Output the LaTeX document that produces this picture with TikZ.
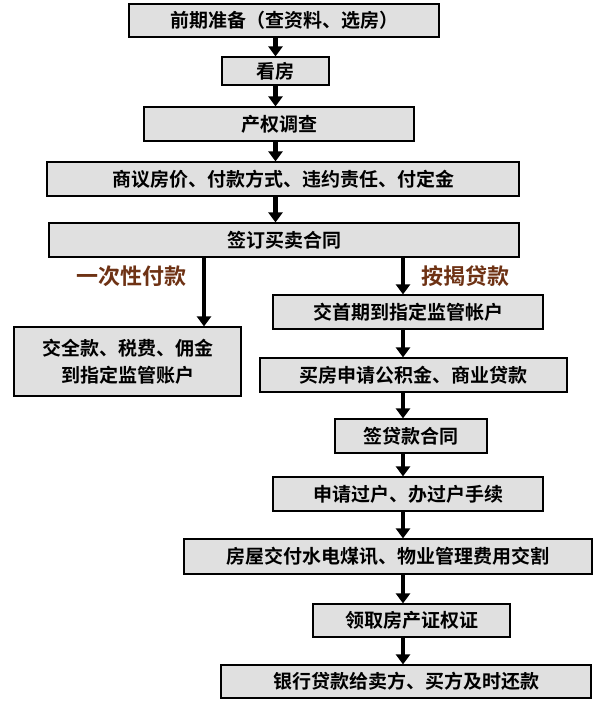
\documentclass[tikz,border=0pt]{standalone}
\usepackage{fontspec}
\setmainfont{Noto Sans CJK SC}[BoldFont={Noto Sans CJK SC Bold}]
\usetikzlibrary{arrows.meta}
\definecolor{boxgray}{RGB}{224,224,224}
\definecolor{labbrown}{RGB}{110,50,20}
\tikzset{
  box/.style={draw=black, line width=1.2pt, fill=boxgray, inner sep=0pt, align=center,
    font=\bfseries\fontsize{19}{27}\selectfont},
  arr/.style={line width=4.5pt, -{Triangle[length=10pt,width=14pt]}},
  lab/.style={text=labbrown, font=\bfseries\fontsize{22}{24}\selectfont}
}
\newcommand{\bx}[6]{\node[box, minimum width={(#4-#2)*1pt}, minimum height={(#5-#3)*1pt}] (#1) at ({(#2+#4)/2}, {(#3+#5)/2}) {#6};}
\begin{document}
\begin{tikzpicture}[x=1pt,y=-1pt]
\useasboundingbox (0,0) rectangle (600,709);
\bx{a}{129}{4}{439}{37}{前期准备（查资料、选房）}
\bx{b}{222}{57}{329}{85}{看房}
\bx{c}{144}{107}{414}{141}{产权调查}
\bx{d}{47}{162}{519}{196}{商议房价、付款方式、违约责任、付定金}
\bx{e}{49}{223}{519}{257}{签订买卖合同}
\bx{l}{14}{327}{241}{396}{交全款、税费、佣金\\到指定监管账户}
\bx{r1}{273}{295}{543}{329}{交首期到指定监管帐户}
\bx{r2}{260}{358}{567}{392}{买房申请公积金、商业贷款}
\bx{r3}{335}{419}{487}{453}{签贷款合同}
\bx{r4}{273}{477}{543}{511}{申请过户、办过户手续}
\bx{r5}{184}{539}{592}{574}{房屋交付水电煤讯、物业管理费用交割}
\bx{r6}{313}{604}{510}{637}{领取房产证权证}
\bx{r7}{221}{665}{591}{698}{银行贷款给卖方、买方及时还款}
\draw[arr] (a.south -| b) -- (b.north);
\draw[arr] (b.south) -- (b.south |- c.north);
\draw[arr] (b.south |- c.south) -- (b.south |- d.north);
\draw[arr] (b.south |- d.south) -- (b.south |- e.north);
\coordinate (lx) at (204,0);
\coordinate (rx) at (403,0);
\draw[arr] (lx |- e.south) -- (lx |- l.north);
\draw[arr] (rx |- e.south) -- (rx |- r1.north);
\draw[arr] (rx |- r1.south) -- (rx |- r2.north);
\draw[arr] (rx |- r2.south) -- (rx |- r3.north);
\draw[arr] (rx |- r3.south) -- (rx |- r4.north);
\draw[arr] (rx |- r4.south) -- (rx |- r5.north);
\draw[arr] (rx |- r5.south) -- (rx |- r6.north);
\draw[arr] (rx |- r6.south) -- (rx |- r7.north);
\node[lab, anchor=east] (t1) at (190,276) {一次性付款};
\node[lab, anchor=west] (t2) at (418,276) {按揭贷款};
\end{tikzpicture}
\end{document}
